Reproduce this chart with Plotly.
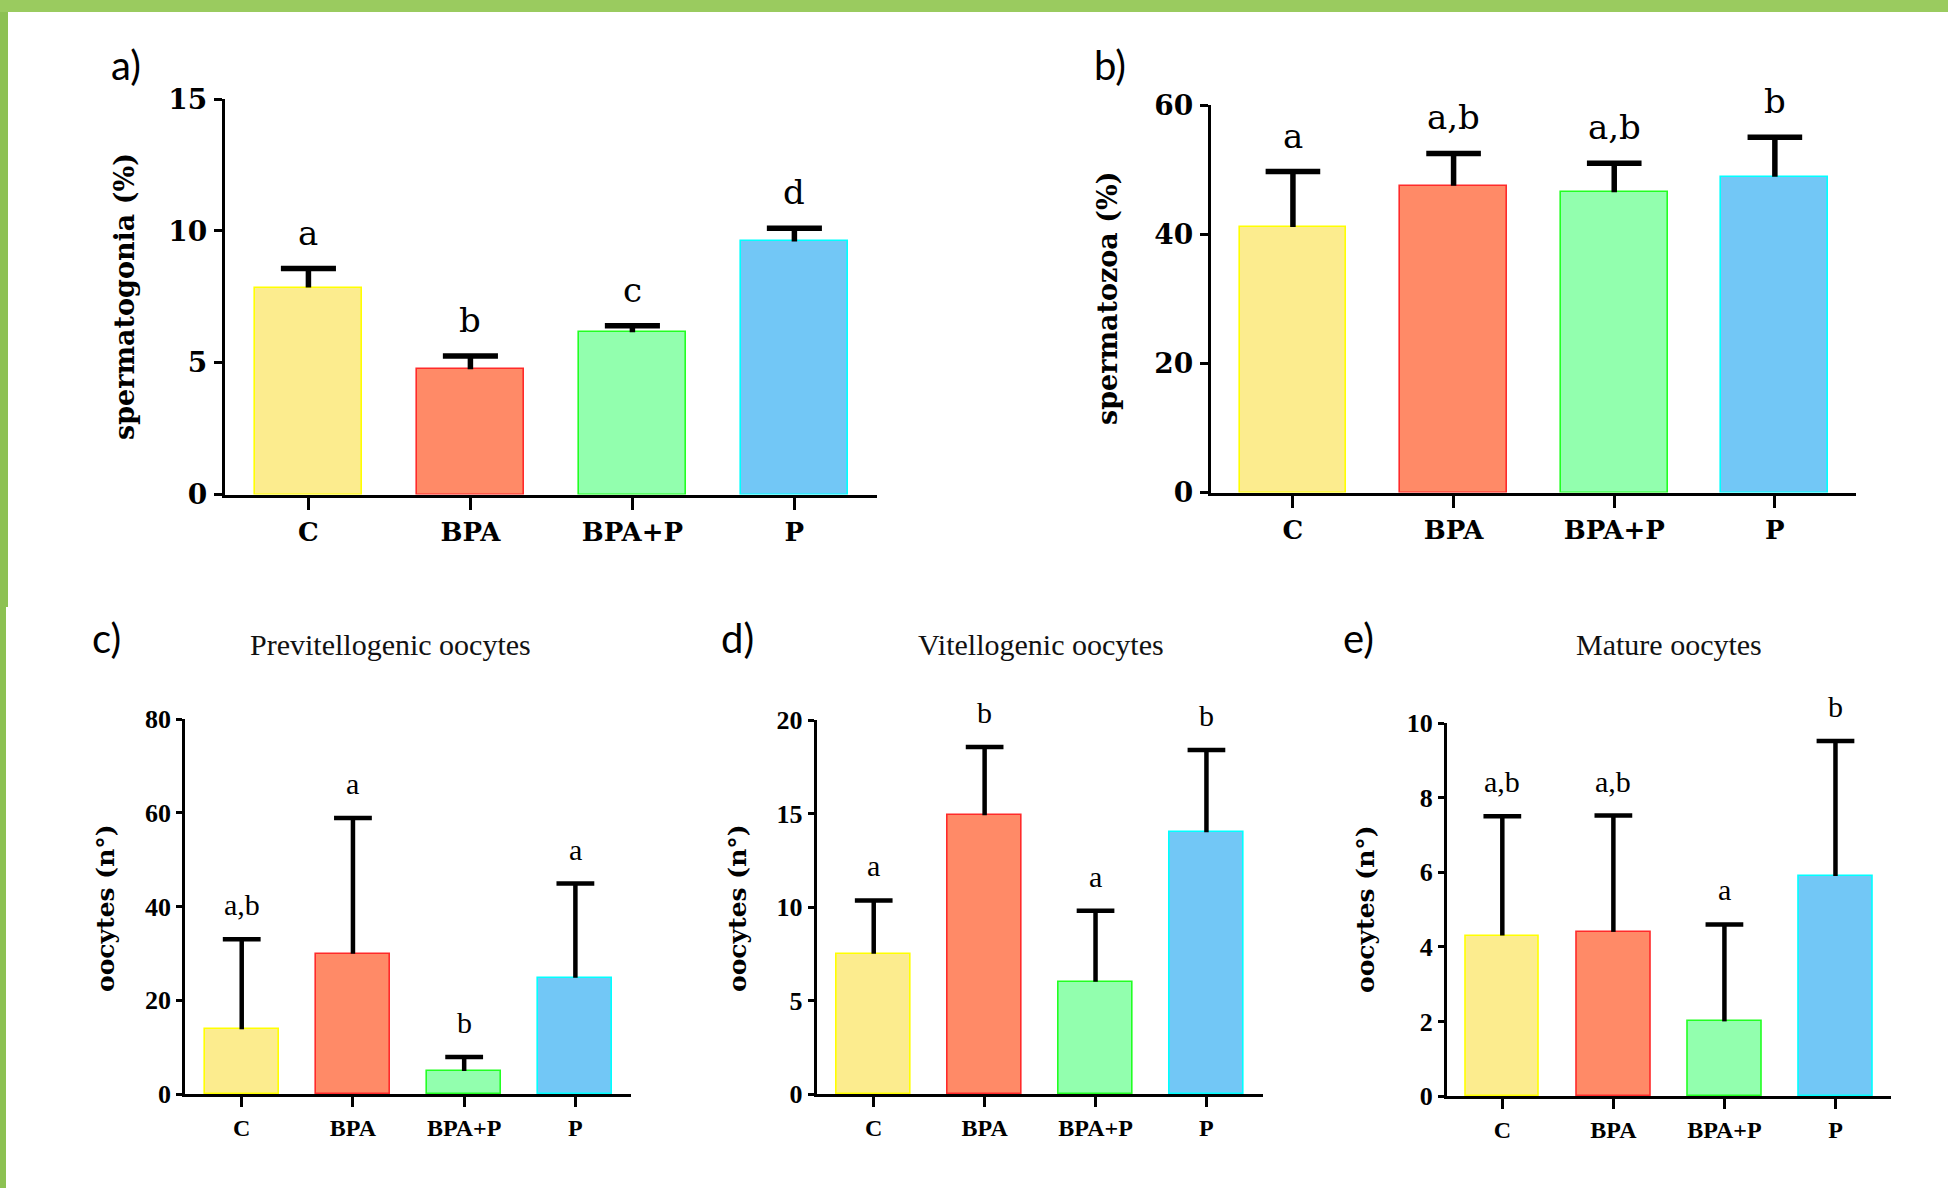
import plotly.graph_objects as go

# ---------------- data ----------------
categories = ["C", "BPA", "BPA+P", "P"]

spermatogonia_mean = [7.85, 4.75, 6.15, 9.6]
spermatogonia_err = [0.72, 0.5, 0.25, 0.5]
spermatogonia_letters = ["a", "b", "c", "d"]
spermatogonia_ticks = [0, 5, 10, 15]

spermatozoa_mean = [41.1, 47.5, 46.5, 48.9]
spermatozoa_err = [8.6, 5.0, 4.5, 6.1]
spermatozoa_letters = ["a", "a,b", "a,b", "b"]
spermatozoa_ticks = [0, 20, 40, 60]

previtellogenic_mean = [13.8, 29.9, 4.9, 24.8]
previtellogenic_err = [19.2, 29.0, 3.0, 20.1]
previtellogenic_letters = ["a,b", "a", "b", "a"]
previtellogenic_ticks = [0, 20, 40, 60, 80]

vitellogenic_mean = [7.5, 14.9, 6.0, 14.0]
vitellogenic_err = [2.85, 3.65, 3.8, 4.4]
vitellogenic_letters = ["a", "b", "a", "b"]
vitellogenic_ticks = [0, 5, 10, 15, 20]

mature_mean = [4.3, 4.4, 2.0, 5.9]
mature_err = [3.2, 3.12, 2.6, 3.62]
mature_letters = ["a,b", "a,b", "a", "b"]
mature_ticks = [0, 2, 4, 6, 8, 10]

panel_labels = ["a)", "b)", "c)", "d)", "e)"]
panel_titles = ["", "", "Previtellogenic oocytes", "Vitellogenic oocytes", "Mature oocytes"]
y_titles = ["spermatogonia (%)", "spermatozoa (%)", "oocytes (n°)", "oocytes (n°)", "oocytes (n°)"]

# ---------------- style ----------------
W, H = 1948, 1188
fill_colors = ["#FCEC8E", "#FF8A67", "#92FFAE", "#72C7F6"]
edge_colors = ["#FFFF00", "#FF2A2A", "#22FF22", "#00FFFF"]

def px(x):
    return x / W

def py(y):
    return 1 - y / H

panels = [
    dict(mean=spermatogonia_mean, err=spermatogonia_err, letters=spermatogonia_letters,
         ticks=spermatogonia_ticks, xdom=(225, 877), ydom=(99, 494.5), xr=(-0.515, 3.51),
         upper=True, label_pos=(126, 65), ytitle_pos=(124, 297), title_pos=None),
    dict(mean=spermatozoa_mean, err=spermatozoa_err, letters=spermatozoa_letters,
         ticks=spermatozoa_ticks, xdom=(1211, 1856), ydom=(105, 492.5), xr=(-0.51, 3.505),
         upper=True, label_pos=(1110, 65), ytitle_pos=(1107, 299), title_pos=None),
    dict(mean=previtellogenic_mean, err=previtellogenic_err, letters=previtellogenic_letters,
         ticks=previtellogenic_ticks, xdom=(185, 631), ydom=(719, 1094), xr=(-0.51, 3.5),
         upper=False, label_pos=(106, 638), ytitle_pos=(105, 908), title_pos=(390, 644)),
    dict(mean=vitellogenic_mean, err=vitellogenic_err, letters=vitellogenic_letters,
         ticks=vitellogenic_ticks, xdom=(816.6, 1263), ydom=(720, 1094), xr=(-0.515, 3.51),
         upper=False, label_pos=(737, 638), ytitle_pos=(737, 908), title_pos=(1041, 644)),
    dict(mean=mature_mean, err=mature_err, letters=mature_letters,
         ticks=mature_ticks, xdom=(1446.8, 1891), ydom=(723, 1096), xr=(-0.5, 3.5),
         upper=False, label_pos=(1358, 638), ytitle_pos=(1365, 909), title_pos=(1669, 644)),
]

fig = go.Figure()
annotations = []
layout_axes = {}
xpos = list(range(len(categories)))
cap_half = 0.17

for i, p in enumerate(panels):
    n = "" if i == 0 else str(i + 1)
    xa, ya = "x" + n, "y" + n
    up = p["upper"]

    fig.add_trace(go.Bar(
        x=xpos, y=p["mean"], width=0.665, xaxis=xa, yaxis=ya,
        marker=dict(color=fill_colors, line=dict(color=edge_colors, width=1.6)),
        showlegend=False, hoverinfo="skip",
    ))

    ex, ey = [], []
    for xi, m, e in zip(xpos, p["mean"], p["err"]):
        ex += [xi, xi, None, xi - cap_half, xi + cap_half, None]
        ey += [m, m + e, None, m + e, m + e, None]
    fig.add_trace(go.Scatter(
        x=ex, y=ey, mode="lines", xaxis=xa, yaxis=ya,
        line=dict(color="black", width=5.5 if up else 4.5),
        showlegend=False, hoverinfo="skip", cliponaxis=False,
    ))

    if up:
        tickfont = dict(family="DejaVu Serif", size=28, color="black", weight="bold")
        catfont = dict(family="DejaVu Serif", size=26, color="black", weight="bold")
        lw, ylen, xlen = 3.3, 8, 12
        ystand, xstand = 1, 0
    else:
        tickfont = dict(family="Liberation Serif", size=26, color="black", weight="bold")
        catfont = dict(family="Liberation Serif", size=24, color="black", weight="bold")
        lw, ylen, xlen = 2.8, 6, 10
        ystand, xstand = 0, 0

    layout_axes["xaxis" + n] = dict(
        domain=[px(p["xdom"][0]), px(p["xdom"][1])], anchor=ya, range=list(p["xr"]),
        tickmode="array", tickvals=xpos, ticktext=categories, tickfont=catfont,
        showline=True, linecolor="black", linewidth=lw, ticks="outside",
        ticklen=xlen, tickwidth=lw, tickcolor="black", showgrid=False, zeroline=False,
        ticklabelstandoff=xstand, fixedrange=True, automargin=False,
    )
    layout_axes["yaxis" + n] = dict(
        domain=[py(p["ydom"][1]), py(p["ydom"][0])], anchor=xa,
        range=[p["ticks"][0], p["ticks"][-1]],
        tickmode="array", tickvals=p["ticks"], tickfont=tickfont,
        showline=True, linecolor="black", linewidth=lw, ticks="outside",
        ticklen=ylen, tickwidth=lw, tickcolor="black", showgrid=False, zeroline=False,
        ticklabelstandoff=ystand, fixedrange=True, automargin=False,
    )

    # significance letters
    for xi, m, e, t in zip(xpos, p["mean"], p["err"], p["letters"]):
        annotations.append(dict(
            x=xi, y=m + e, xref=xa, yref=ya, text=t, showarrow=False,
            yanchor="bottom", yshift=14 if up else 16,
            font=dict(family="DejaVu Serif" if up else "Liberation Serif",
                      size=34 if up else 30, color="black"),
        ))

    # panel label
    annotations.append(dict(
        x=px(p["label_pos"][0]), y=py(p["label_pos"][1]), xref="paper", yref="paper",
        text=panel_labels[i], showarrow=False, xanchor="center", yanchor="middle",
        font=dict(family="Lato", size=40, color="black"),
    ))
    # y-axis title
    annotations.append(dict(
        x=px(p["ytitle_pos"][0]), y=py(p["ytitle_pos"][1]), xref="paper", yref="paper",
        text=y_titles[i], showarrow=False, textangle=-90, xanchor="center", yanchor="middle",
        font=dict(family="DejaVu Serif", size=27 if up else 25, color="black", weight="bold"),
    ))
    # panel title
    if p["title_pos"]:
        annotations.append(dict(
            x=px(p["title_pos"][0]), y=py(p["title_pos"][1]), xref="paper", yref="paper",
            text=panel_titles[i], showarrow=False, xanchor="center", yanchor="middle",
            font=dict(family="Liberation Serif", size=30, color="#111111"),
        ))

shapes = [
    dict(type="rect", xref="paper", yref="paper", x0=0, x1=1, y0=py(12), y1=1,
         fillcolor="#9ACB5F", line=dict(width=0), layer="below"),
    dict(type="rect", xref="paper", yref="paper", x0=0, x1=px(8), y0=py(607), y1=py(12),
         fillcolor="#8DC153", line=dict(width=0), layer="below"),
    dict(type="rect", xref="paper", yref="paper", x0=0, x1=px(6), y0=0, y1=py(607),
         fillcolor="#8CC152", line=dict(width=0), layer="below"),
]

fig.update_layout(
    width=W, height=H, margin=dict(l=0, r=0, t=0, b=0, pad=0, autoexpand=False),
    paper_bgcolor="white", plot_bgcolor="white",
    annotations=annotations, shapes=shapes, bargap=0,
    **layout_axes,
)

fig.write_html(
    "out.html",
    config={"displayModeBar": False},
    post_script="document.body.style.margin='0';document.body.style.overflow='hidden';",
)
